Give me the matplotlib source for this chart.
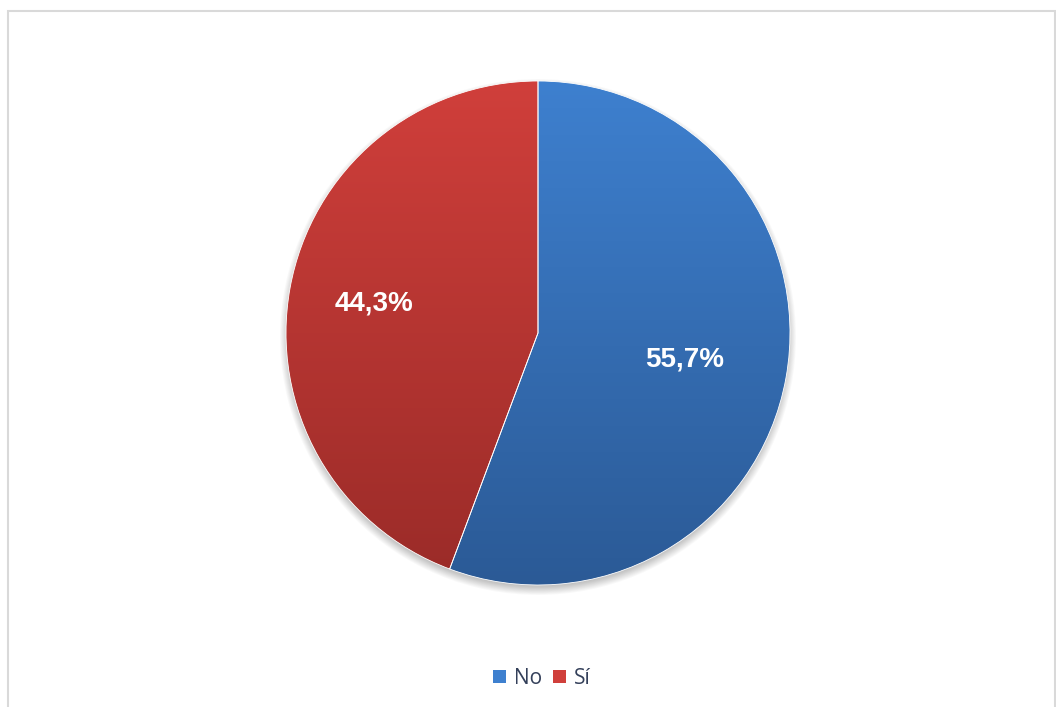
import matplotlib.pyplot as plt
import numpy as np
from matplotlib.colors import LinearSegmentedColormap
from matplotlib.patches import Circle, Rectangle, Patch

labels = ['No', 'Sí']
shares = [55.7, 44.3]
top_colors = ['#3e80cf', '#d03f3b']
bottom_colors = ['#2b5a96', '#9a2b28']
label_dist = [0.59, 0.66]

W, H = 1056, 707
fig = plt.figure(figsize=(W / 100, H / 100), dpi=100)
ax = fig.add_axes([0, 0, 1, 1])

cx, cy, r = 538, H - 333, 252

# soft drop shadow under the pie
for k in range(12):
    ax.add_patch(Circle((cx, cy - 4), r + 6 - k * 0.9, color='#000000',
                        alpha=0.025, lw=0, zorder=1))

wedges, texts, autotexts = ax.pie(
    shares, center=(cx, cy), radius=r, startangle=90, counterclock=False,
    colors=top_colors, autopct=lambda p: f'{p:.1f}%'.replace('.', ','),
    pctdistance=0.6, wedgeprops=dict(linewidth=0.6, edgecolor='white'),
    textprops=dict(color='white', fontsize=20, fontweight='bold',
                   family='Liberation Sans'))

# vertical gradient fill, clipped to each wedge
grad = np.linspace(0, 1, 256).reshape(-1, 1)
for w, c0, c1 in zip(wedges, top_colors, bottom_colors):
    cmap = LinearSegmentedColormap.from_list('g', [c1, c0])
    im = ax.imshow(grad, cmap=cmap, origin='lower', aspect='auto',
                   extent=(cx - r, cx + r, cy - r, cy + r), zorder=2)
    im.set_clip_path(w)
    w.set_zorder(3)
    w.set_facecolor('none')

# push each percentage along its wedge's mid angle
for w, t, d in zip(wedges, autotexts, label_dist):
    ang = np.deg2rad((w.theta1 + w.theta2) / 2)
    t.set_position((cx + d * r * np.cos(ang), cy + d * r * np.sin(ang)))
    t.set_zorder(5)

ax.set_xlim(0, W)
ax.set_ylim(0, H)
ax.set_aspect('auto')
ax.axis('off')

# chart area border
fig.patches.append(Rectangle((8 / W, -0.01), (1055 - 8) / W, 1 - 11 / H + 0.01,
                             transform=fig.transFigure, fill=False,
                             edgecolor='#d9d9d9', linewidth=1.5))

handles = [Patch(facecolor=c, edgecolor='none') for c in top_colors]
fig.legend(handles, labels, loc='center', bbox_to_anchor=(542 / W, 1 - 678 / H),
           ncol=2, frameon=False, handlelength=0.58, handleheight=0.58,
           handletextpad=0.4, columnspacing=0.55, labelcolor='#34405a',
           prop=dict(family='Open Sans', size=15))

fig.savefig('out.png', dpi=100)
